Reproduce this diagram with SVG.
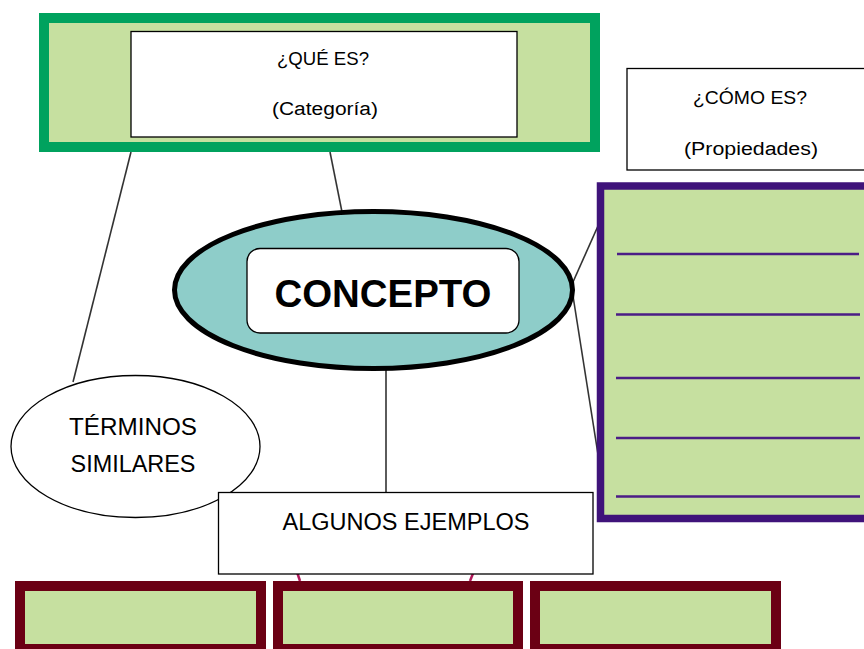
<svg xmlns="http://www.w3.org/2000/svg" width="864" height="649" viewBox="0 0 864 649">
<style>
text{font-family:"Liberation Sans",Arial,sans-serif;fill:#000;}
.lbl{font-size:18px;text-anchor:middle;}
.big{font-size:23px;text-anchor:middle;}
.wbox{fill:#fff;stroke:#000;stroke-width:1.3;}
.conn{stroke:#333;stroke-width:1.6;fill:none;}
.green{fill:#c6e0a0;}
.rule{stroke:#4b1d86;stroke-width:2.5;}
.mbox{fill:#c6e0a0;stroke:#6b0014;stroke-width:10;}
</style>
<rect width="864" height="649" fill="#fff"/>
<g id="connectors">
<line class="conn" x1="131" y1="152" x2="73" y2="382"/>
<line class="conn" x1="330" y1="152" x2="342" y2="212"/>
<line class="conn" x1="386" y1="370" x2="386" y2="493"/>
<line class="conn" x1="573" y1="282" x2="602" y2="217"/>
<line class="conn" x1="573" y1="296" x2="600" y2="467"/>
<line x1="295" y1="566" x2="300" y2="581" stroke="#b0185a" stroke-width="2.5"/>
<line x1="476" y1="566" x2="470" y2="581" stroke="#b0185a" stroke-width="2.5"/>
</g>
<g id="que-es">
<rect x="44" y="18" width="551" height="129" class="green" stroke="#00a25e" stroke-width="10"/>
<rect x="131" y="31.5" width="386" height="105.5" class="wbox"/>
<text class="lbl" x="323" y="65" textLength="92" lengthAdjust="spacingAndGlyphs">¿QUÉ ES?</text>
<text class="lbl" x="325" y="115" textLength="106" lengthAdjust="spacingAndGlyphs">(Categoría)</text>
</g>
<g id="como-es">
<rect x="627" y="68.5" width="250" height="101.5" class="wbox"/>
<text class="lbl" x="750" y="104" textLength="114" lengthAdjust="spacingAndGlyphs">¿CÓMO ES?</text>
<text class="lbl" x="751" y="155" textLength="134" lengthAdjust="spacingAndGlyphs">(Propiedades)</text>
</g>
<g id="propiedades">
<rect x="600.5" y="186" width="280" height="332.5" class="green" stroke="#3f137a" stroke-width="7.5"/>
<line class="rule" x1="617" y1="254" x2="859" y2="254"/>
<line class="rule" x1="616" y1="314.5" x2="860" y2="314.5"/>
<line class="rule" x1="616" y1="378" x2="860" y2="378"/>
<line class="rule" x1="616" y1="438" x2="860" y2="438"/>
<line class="rule" x1="616" y1="496.5" x2="860" y2="496.5"/>
</g>
<g id="concepto">
<ellipse cx="373.5" cy="290" rx="199" ry="78.5" fill="#8ecdc9" stroke="#000" stroke-width="5"/>
<rect x="247" y="248.5" width="272" height="84.5" rx="13" fill="#fff" stroke="#000" stroke-width="1.3"/>
<text x="383" y="307" font-size="38" font-weight="bold" text-anchor="middle" textLength="217" lengthAdjust="spacingAndGlyphs">CONCEPTO</text>
</g>
<g id="terminos">
<ellipse cx="135.5" cy="446.5" rx="124.5" ry="71" fill="#fff" stroke="#000" stroke-width="1.3"/>
<text class="big" x="133" y="435" textLength="128" lengthAdjust="spacingAndGlyphs">TÉRMINOS</text>
<text class="big" x="133" y="472" textLength="125" lengthAdjust="spacingAndGlyphs">SIMILARES</text>
</g>
<g id="ejemplos">
<rect x="218.5" y="492.5" width="374.5" height="81.5" class="wbox"/>
<text class="big" x="406" y="530" textLength="247" lengthAdjust="spacingAndGlyphs">ALGUNOS EJEMPLOS</text>
</g>
<g id="ejemplo-1"><rect x="20" y="586" width="241" height="63" class="mbox"/></g>
<g id="ejemplo-2"><rect x="278" y="586" width="240" height="63" class="mbox"/></g>
<g id="ejemplo-3"><rect x="535" y="586" width="241" height="63" class="mbox"/></g>
</svg>
